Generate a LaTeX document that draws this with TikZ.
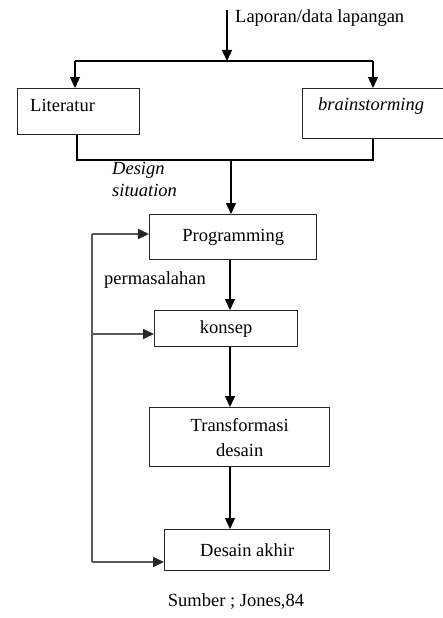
\documentclass[tikz,border=0pt]{standalone}
\usepackage{fontspec}
\setmainfont{Liberation Serif}
\usetikzlibrary{arrows.meta}
\begin{document}
\begin{tikzpicture}[x=1pt,y=-1pt,
  box/.style={draw=black!85,line width=1.4pt,inner sep=0pt,anchor=north west,font=\fontsize{18.5}{25}\selectfont,align=center},
  txt/.style={inner sep=0pt,font=\fontsize{18.5}{22}\selectfont},
  itxt/.style={inner sep=0pt,font=\fontsize{18.5}{22}\selectfont\itshape},
  arr/.style={-{Triangle[length=11pt,width=10pt]},line width=1.4pt},
  fbarr/.style={-{Triangle[length=11pt,width=10pt,color=black!85]},line width=1.7pt,draw=black!65},
  ln/.style={line width=1.4pt},
  fb/.style={line width=1.7pt,draw=black!65}
]
\useasboundingbox (0,0) rectangle (443,618);
% boxes
\node[box,minimum width=122pt,minimum height=46pt] (lit) at (17,88) {};
\node[box,minimum width=150pt,minimum height=50pt] (brain) at (302,88) {};
\node[box,minimum width=167pt,minimum height=45pt] (prog) at (149,214) {Programming};
\node[box,minimum width=143pt,minimum height=36pt] (kon) at (154,310) {konsep};
\node[box,minimum width=180pt,minimum height=59pt] (trans) at (149,407) {Transformasi\\desain};
\node[box,minimum width=165pt,minimum height=41pt] (akhir) at (164,529) {Desain akhir};
% texts
\node[txt,anchor=west] (lap) at (235,18) {Laporan/data lapangan};
\node[txt,anchor=west] (littxt) at (30,105) {Literatur};
\node[itxt,anchor=west] (braintxt) at (318,106) {brainstorming};
\node[itxt,anchor=north west,align=left] (ds) at (112,162) {Design\\situation};
\node[txt,anchor=west] (perm) at (104,280) {permasalahan};
\node[txt] (src) at (236,601) {Sumber ; Jones,84};
% top distribution
\coordinate (top) at (227,10);
\coordinate (split) at (227,61);
\coordinate (sl) at (75,61);
\coordinate (sr) at (373,61);
\draw[arr] (top) -- (split);
\draw[ln] (sl) -- (sr);
\draw[arr] (sl) -- (sl |- lit.north);
\draw[arr] (sr) -- (sr |- brain.north);
% join
\coordinate (jl) at (77,160);
\coordinate (jr) at (373,160);
\coordinate (jm) at (231,160);
\draw[ln] (jl |- lit.south) -- (jl) -- (jr) -- (jr |- brain.south);
\draw[arr] (jm) -- (jm |- prog.north);
% main chain
\coordinate (cx) at (230,0);
\draw[arr] (cx |- prog.south) -- (cx |- kon.north);
\draw[arr] (cx |- kon.south) -- (cx |- trans.north);
\draw[arr] (cx |- trans.south) -- (cx |- akhir.north);
% feedback
\coordinate (fbt) at (92,234);
\coordinate (fbk) at (92,334);
\coordinate (fbb) at (92,562);
\draw[fb] (fbt) -- (fbb);
\draw[fbarr] (fbt) -- (fbt -| prog.west);
\draw[fbarr] (fbk) -- (fbk -| kon.west);
\draw[fbarr] (fbb) -- (fbb -| akhir.west);
\end{tikzpicture}
\end{document}
